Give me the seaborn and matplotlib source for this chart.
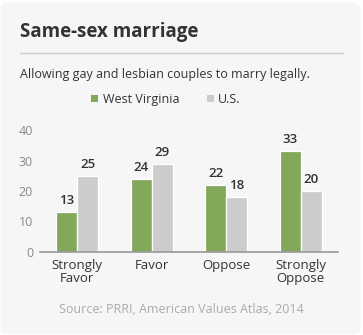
import matplotlib
matplotlib.use("Agg")
import matplotlib.pyplot as plt
from matplotlib.patches import FancyBboxPatch
import seaborn as sns
import pandas as pd

categories = ["Strongly\nFavor", "Favor", "Oppose", "Strongly\nOppose"]
west_virginia = [13, 24, 22, 33]
us = [25, 29, 18, 20]
series_names = ["West Virginia", "U.S."]
yticks = [0, 10, 20, 30, 40]

df = pd.DataFrame({
    "category": categories * 2,
    "value": west_virginia + us,
    "region": [series_names[0]] * 4 + [series_names[1]] * 4,
})

sns.set_theme(style="white")
plt.rcParams["font.family"] = ["Open Sans", "DejaVu Sans"]

W, H = 363, 335
fig = plt.figure(figsize=(W / 100, H / 100), dpi=100)
fig.patch.set_facecolor("white")

# rounded light-gray card behind everything
card = FancyBboxPatch((0.5 / W, 0.5 / H), 360 / W, 332 / H,
                      boxstyle="round,pad=0,rounding_size=0.022",
                      transform=fig.transFigure, facecolor="#f6f6f6",
                      edgecolor="none", zorder=-5)
fig.patches.append(card)

def fx(px):
    return px / W

def fy(py):
    return 1 - py / H

ax = fig.add_axes([fx(40), fy(252), fx(338) - fx(40), (252 - 130) / H])
ax.set_facecolor("none")
ax.set_zorder(2)

palette = {series_names[0]: "#82a85a", series_names[1]: "#cccccc"}
sns.barplot(data=df, x="category", y="value", hue="region", order=categories,
            hue_order=series_names, palette=palette, width=0.57,
            edgecolor="white", linewidth=0.9, saturation=1, ax=ax, legend=False)

for cont in ax.containers:
    ax.bar_label(cont, fmt="%d", padding=3.5, fontsize=9.5, color="#333333",
                 fontweight="semibold", clip_on=False)

ax.set_xlim(-0.5, 3.5)
ax.set_ylim(0, 40)
ax.set_yticks(yticks)
ax.set_yticklabels([str(t) for t in yticks])
ax.set_xlabel("")
ax.set_ylabel("")
for s in ["top", "right", "left"]:
    ax.spines[s].set_visible(False)
ax.spines["bottom"].set_color("#999999")
ax.spines["bottom"].set_linewidth(1.2)
ax.tick_params(axis="y", length=0, pad=5, labelsize=9, labelcolor="#888888")
ax.tick_params(axis="x", length=0, pad=5, labelsize=9.5, labelcolor="#333333")
for lab in ax.get_xticklabels():
    lab.set_linespacing(1.05)

# header
fig.text(fx(20), fy(37), "Same-sex marriage", fontsize=13.5, fontweight="bold",
         color="#333333", va="baseline", ha="left")
fig.add_artist(plt.Line2D([fx(20), fx(343)], [fy(53), fy(53)], color="#cccccc",
                          lw=1.0, transform=fig.transFigure))
fig.text(fx(20), fy(78), "Allowing gay and lesbian couples to marry legally.",
         fontsize=9, color="#333333", va="baseline", ha="left")

# legend
for name, xsq, xtxt in [(series_names[0], 91, 103), (series_names[1], 207, 218)]:
    fig.patches.append(plt.Rectangle((fx(xsq), fy(102)), 7 / W, 7 / H,
                                     transform=fig.transFigure,
                                     facecolor=palette[name], edgecolor="none"))
    fig.text(fx(xtxt), fy(103), name, fontsize=9, color="#333333",
             va="baseline", ha="left")

fig.text(fx(181), fy(313), "Source: PRRI, American Values Atlas, 2014",
         fontsize=9, color="#aaaaaa", va="baseline", ha="center")

fig.savefig("out.png", dpi=100, facecolor=fig.get_facecolor())
